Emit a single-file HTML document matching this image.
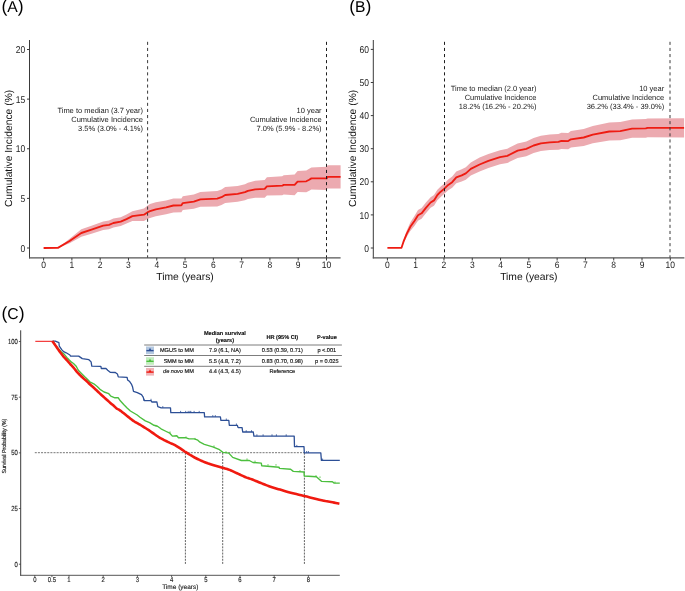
<!DOCTYPE html><html><head><meta charset="utf-8"><style>html,body{margin:0;padding:0;background:#fff;width:685px;height:591px;overflow:hidden}svg{display:block;will-change:transform}</style></head><body>
<svg width="685" height="591" viewBox="0 0 685 591" font-family='"Liberation Sans", sans-serif' text-rendering="geometricPrecision">
<rect width="685" height="591" fill="#fff"/>
<text x="1.50" y="12.30" fill="#000"><tspan font-size="17.6">(</tspan><tspan font-size="15.7">A</tspan><tspan font-size="17.6">)</tspan></text>
<polygon points="43.60,248.00 57.90,247.90 69.60,238.80 81.30,229.20 91.50,225.66 103.20,221.40 109.00,220.55 113.40,218.61 120.70,217.15 126.50,214.57 132.40,211.35 144.00,208.42 148.40,204.99 150.00,204.10 155.80,202.32 166.10,200.45 173.40,198.57 181.40,198.40 182.80,196.18 193.80,194.43 200.40,192.07 217.20,190.98 221.50,189.38 225.20,187.10 237.60,185.94 245.00,184.20 247.90,182.66 255.20,180.81 264.70,179.96 266.90,177.37 282.20,176.22 283.70,175.35 294.60,174.57 297.60,171.08 306.30,170.47 309.20,168.86 311.40,167.38 326.80,166.71 327.50,165.20 340.60,165.20 340.60,188.60 327.50,188.60 326.80,190.09 311.40,189.42 309.20,190.74 306.30,192.13 297.60,192.12 294.60,195.23 283.70,194.45 282.20,195.18 266.90,195.43 264.70,197.84 255.20,197.79 247.90,198.94 245.00,200.20 237.60,201.86 225.20,202.90 221.50,205.02 217.20,206.42 200.40,206.73 193.80,208.77 182.80,210.02 181.40,212.20 173.40,212.43 166.10,214.35 155.80,216.28 150.00,218.10 148.40,218.61 144.00,220.98 132.40,221.05 126.50,223.62 120.70,226.05 113.40,227.39 109.00,229.25 103.20,230.00 91.50,233.74 81.30,236.80 69.60,243.20 57.90,247.90 43.60,248.00" fill="#ecaab0" stroke="none"/>
<polyline points="43.60,248.00 57.90,247.90 69.60,241.00 81.30,233.00 91.50,229.70 103.20,225.70 109.00,224.90 113.40,223.00 120.70,221.60 126.50,219.10 132.40,216.20 144.00,214.70 148.40,211.80 150.00,211.10 155.80,209.30 166.10,207.40 173.40,205.50 181.40,205.30 182.80,203.10 193.80,201.60 200.40,199.40 217.20,198.70 221.50,197.20 225.20,195.00 237.60,193.90 245.00,192.20 247.90,190.80 255.20,189.30 264.70,188.90 266.90,186.40 282.20,185.70 283.70,184.90 294.60,184.90 297.60,181.60 306.30,181.30 309.20,179.80 311.40,178.40 326.80,178.40 327.50,176.90 340.60,176.90" fill="none" stroke="#ee1c12" stroke-width="1.85" stroke-linejoin="round"/>
<line x1="147.60" y1="41.80" x2="147.60" y2="257.90" stroke="#3a3a3a" stroke-width="1" stroke-dasharray="3.1 3"/>
<line x1="326.50" y1="41.80" x2="326.50" y2="257.90" stroke="#1e1e1e" stroke-width="1" stroke-dasharray="3.1 3"/>
<line x1="29.50" y1="40.00" x2="29.50" y2="258.40" stroke="#3a3a3a" stroke-width="1" />
<line x1="29.00" y1="257.90" x2="340.60" y2="257.90" stroke="#555" stroke-width="1.2" />
<line x1="27.00" y1="248.00" x2="29.50" y2="248.00" stroke="#3a3a3a" stroke-width="1" />
<text transform="translate(25.20,251.60) scale(1,1.16)" font-size="8.5" text-anchor="end" fill="#222">0</text>
<line x1="27.00" y1="198.38" x2="29.50" y2="198.38" stroke="#3a3a3a" stroke-width="1" />
<text transform="translate(25.20,201.97) scale(1,1.16)" font-size="8.5" text-anchor="end" fill="#222">5</text>
<line x1="27.00" y1="148.75" x2="29.50" y2="148.75" stroke="#3a3a3a" stroke-width="1" />
<text transform="translate(25.20,152.35) scale(1,1.16)" font-size="8.5" text-anchor="end" fill="#222">10</text>
<line x1="27.00" y1="99.12" x2="29.50" y2="99.12" stroke="#3a3a3a" stroke-width="1" />
<text transform="translate(25.20,102.72) scale(1,1.16)" font-size="8.5" text-anchor="end" fill="#222">15</text>
<line x1="27.00" y1="49.50" x2="29.50" y2="49.50" stroke="#3a3a3a" stroke-width="1" />
<text transform="translate(25.20,53.10) scale(1,1.16)" font-size="8.5" text-anchor="end" fill="#222">20</text>
<line x1="43.60" y1="257.90" x2="43.60" y2="260.50" stroke="#3a3a3a" stroke-width="1" />
<text transform="translate(43.60,268.30) scale(1,1.1)" font-size="8.5" text-anchor="middle" fill="#222">0</text>
<line x1="71.89" y1="257.90" x2="71.89" y2="260.50" stroke="#3a3a3a" stroke-width="1" />
<text transform="translate(71.89,268.30) scale(1,1.1)" font-size="8.5" text-anchor="middle" fill="#222">1</text>
<line x1="100.18" y1="257.90" x2="100.18" y2="260.50" stroke="#3a3a3a" stroke-width="1" />
<text transform="translate(100.18,268.30) scale(1,1.1)" font-size="8.5" text-anchor="middle" fill="#222">2</text>
<line x1="128.47" y1="257.90" x2="128.47" y2="260.50" stroke="#3a3a3a" stroke-width="1" />
<text transform="translate(128.47,268.30) scale(1,1.1)" font-size="8.5" text-anchor="middle" fill="#222">3</text>
<line x1="156.76" y1="257.90" x2="156.76" y2="260.50" stroke="#3a3a3a" stroke-width="1" />
<text transform="translate(156.76,268.30) scale(1,1.1)" font-size="8.5" text-anchor="middle" fill="#222">4</text>
<line x1="185.05" y1="257.90" x2="185.05" y2="260.50" stroke="#3a3a3a" stroke-width="1" />
<text transform="translate(185.05,268.30) scale(1,1.1)" font-size="8.5" text-anchor="middle" fill="#222">5</text>
<line x1="213.34" y1="257.90" x2="213.34" y2="260.50" stroke="#3a3a3a" stroke-width="1" />
<text transform="translate(213.34,268.30) scale(1,1.1)" font-size="8.5" text-anchor="middle" fill="#222">6</text>
<line x1="241.63" y1="257.90" x2="241.63" y2="260.50" stroke="#3a3a3a" stroke-width="1" />
<text transform="translate(241.63,268.30) scale(1,1.1)" font-size="8.5" text-anchor="middle" fill="#222">7</text>
<line x1="269.92" y1="257.90" x2="269.92" y2="260.50" stroke="#3a3a3a" stroke-width="1" />
<text transform="translate(269.92,268.30) scale(1,1.1)" font-size="8.5" text-anchor="middle" fill="#222">8</text>
<line x1="298.21" y1="257.90" x2="298.21" y2="260.50" stroke="#3a3a3a" stroke-width="1" />
<text transform="translate(298.21,268.30) scale(1,1.1)" font-size="8.5" text-anchor="middle" fill="#222">9</text>
<line x1="326.50" y1="257.90" x2="326.50" y2="260.50" stroke="#3a3a3a" stroke-width="1" />
<text transform="translate(326.50,268.30) scale(1,1.1)" font-size="8.5" text-anchor="middle" fill="#222">10</text>
<text x="185.05" y="280.40" font-size="10.3" text-anchor="middle" fill="#111" font-weight="normal" >Time (years)</text>
<text transform="translate(11.90,148.45) rotate(-90)" font-size="10.3" text-anchor="middle" fill="#111">Cumulative Incidence (%)</text>
<text x="143.00" y="113.10" font-size="7.5" text-anchor="end" fill="#222" font-weight="normal" >Time to median (3.7 year)</text>
<text x="143.00" y="122.05" font-size="7.5" text-anchor="end" fill="#222" font-weight="normal" >Cumulative Incidence</text>
<text x="143.00" y="131.00" font-size="7.5" text-anchor="end" fill="#222" font-weight="normal" >3.5% (3.0% - 4.1%)</text>
<text x="321.60" y="113.10" font-size="7.5" text-anchor="end" fill="#222" font-weight="normal" >10 year</text>
<text x="321.60" y="122.05" font-size="7.5" text-anchor="end" fill="#222" font-weight="normal" >Cumulative Incidence</text>
<text x="321.60" y="131.00" font-size="7.5" text-anchor="end" fill="#222" font-weight="normal" >7.0% (5.9% - 8.2%)</text>
<text x="349.20" y="12.30" fill="#000"><tspan font-size="17.6">(</tspan><tspan font-size="15.7">B</tspan><tspan font-size="17.6">)</tspan></text>
<polygon points="387.40,247.80 401.50,247.80 403.50,240.20 406.80,230.40 410.30,222.50 414.60,215.70 418.00,209.90 421.60,207.90 425.90,202.50 430.60,197.15 434.00,195.09 437.40,189.72 440.70,186.46 444.10,183.70 448.20,179.52 452.20,176.62 456.30,171.62 461.70,169.36 465.80,167.16 470.80,162.39 479.60,157.52 488.40,153.90 500.00,150.20 507.30,148.68 517.60,143.42 526.30,141.48 533.60,137.96 540.90,135.75 549.70,134.50 558.40,133.93 561.40,132.87 568.20,132.94 570.90,131.08 583.70,129.03 592.80,126.04 609.30,122.59 620.20,122.07 632.10,119.53 645.80,119.08 647.60,118.46 684.10,118.20 684.10,137.40 647.60,137.14 645.80,137.72 632.10,137.87 620.20,140.13 609.30,140.41 592.80,143.36 583.70,145.97 570.90,147.52 568.20,149.26 561.40,148.93 558.40,149.87 549.70,150.10 540.90,151.05 533.60,153.04 526.30,156.32 517.60,157.98 507.30,162.92 500.00,164.20 488.40,167.90 479.60,171.48 470.80,175.41 465.80,179.64 461.70,181.44 456.30,183.18 452.20,187.78 448.20,190.28 444.10,194.10 440.70,196.94 437.40,200.28 434.00,205.71 430.60,207.85 425.90,213.30 421.60,218.70 418.00,220.70 414.60,225.70 410.30,231.10 406.80,236.80 403.50,243.20 401.50,247.80 387.40,247.80" fill="#ecaab0" stroke="none"/>
<polyline points="387.40,247.80 401.50,247.80 403.50,241.70 406.80,233.60 410.30,226.80 414.60,220.70 418.00,215.30 421.60,213.30 425.90,207.90 430.60,202.50 434.00,200.40 437.40,195.00 440.70,191.70 444.10,188.90 448.20,184.90 452.20,182.20 456.30,177.40 461.70,175.40 465.80,173.40 470.80,168.90 479.60,164.50 488.40,160.90 500.00,157.20 507.30,155.80 517.60,150.70 526.30,148.90 533.60,145.50 540.90,143.40 549.70,142.30 558.40,141.90 561.40,140.90 568.20,141.10 570.90,139.30 583.70,137.50 592.80,134.70 609.30,131.50 620.20,131.10 632.10,128.70 645.80,128.40 647.60,127.80 684.10,127.80" fill="none" stroke="#ee1c12" stroke-width="1.85" stroke-linejoin="round"/>
<line x1="444.50" y1="41.80" x2="444.50" y2="257.90" stroke="#1e1e1e" stroke-width="1" stroke-dasharray="3.1 3"/>
<line x1="670.00" y1="41.80" x2="670.00" y2="257.90" stroke="#3a3a3a" stroke-width="1" stroke-dasharray="3.1 3"/>
<line x1="373.30" y1="40.00" x2="373.30" y2="258.40" stroke="#3a3a3a" stroke-width="1" />
<line x1="372.80" y1="257.90" x2="684.40" y2="257.90" stroke="#555" stroke-width="1.2" />
<line x1="370.80" y1="248.00" x2="373.30" y2="248.00" stroke="#3a3a3a" stroke-width="1" />
<text transform="translate(369.00,251.60) scale(1,1.16)" font-size="8.5" text-anchor="end" fill="#222">0</text>
<line x1="370.80" y1="214.90" x2="373.30" y2="214.90" stroke="#3a3a3a" stroke-width="1" />
<text transform="translate(369.00,218.50) scale(1,1.16)" font-size="8.5" text-anchor="end" fill="#222">10</text>
<line x1="370.80" y1="181.80" x2="373.30" y2="181.80" stroke="#3a3a3a" stroke-width="1" />
<text transform="translate(369.00,185.40) scale(1,1.16)" font-size="8.5" text-anchor="end" fill="#222">20</text>
<line x1="370.80" y1="148.70" x2="373.30" y2="148.70" stroke="#3a3a3a" stroke-width="1" />
<text transform="translate(369.00,152.30) scale(1,1.16)" font-size="8.5" text-anchor="end" fill="#222">30</text>
<line x1="370.80" y1="115.60" x2="373.30" y2="115.60" stroke="#3a3a3a" stroke-width="1" />
<text transform="translate(369.00,119.20) scale(1,1.16)" font-size="8.5" text-anchor="end" fill="#222">40</text>
<line x1="370.80" y1="82.50" x2="373.30" y2="82.50" stroke="#3a3a3a" stroke-width="1" />
<text transform="translate(369.00,86.10) scale(1,1.16)" font-size="8.5" text-anchor="end" fill="#222">50</text>
<line x1="370.80" y1="49.40" x2="373.30" y2="49.40" stroke="#3a3a3a" stroke-width="1" />
<text transform="translate(369.00,53.00) scale(1,1.16)" font-size="8.5" text-anchor="end" fill="#222">60</text>
<line x1="387.40" y1="257.90" x2="387.40" y2="260.50" stroke="#3a3a3a" stroke-width="1" />
<text transform="translate(387.40,268.30) scale(1,1.1)" font-size="8.5" text-anchor="middle" fill="#222">0</text>
<line x1="415.69" y1="257.90" x2="415.69" y2="260.50" stroke="#3a3a3a" stroke-width="1" />
<text transform="translate(415.69,268.30) scale(1,1.1)" font-size="8.5" text-anchor="middle" fill="#222">1</text>
<line x1="443.98" y1="257.90" x2="443.98" y2="260.50" stroke="#3a3a3a" stroke-width="1" />
<text transform="translate(443.98,268.30) scale(1,1.1)" font-size="8.5" text-anchor="middle" fill="#222">2</text>
<line x1="472.27" y1="257.90" x2="472.27" y2="260.50" stroke="#3a3a3a" stroke-width="1" />
<text transform="translate(472.27,268.30) scale(1,1.1)" font-size="8.5" text-anchor="middle" fill="#222">3</text>
<line x1="500.56" y1="257.90" x2="500.56" y2="260.50" stroke="#3a3a3a" stroke-width="1" />
<text transform="translate(500.56,268.30) scale(1,1.1)" font-size="8.5" text-anchor="middle" fill="#222">4</text>
<line x1="528.85" y1="257.90" x2="528.85" y2="260.50" stroke="#3a3a3a" stroke-width="1" />
<text transform="translate(528.85,268.30) scale(1,1.1)" font-size="8.5" text-anchor="middle" fill="#222">5</text>
<line x1="557.14" y1="257.90" x2="557.14" y2="260.50" stroke="#3a3a3a" stroke-width="1" />
<text transform="translate(557.14,268.30) scale(1,1.1)" font-size="8.5" text-anchor="middle" fill="#222">6</text>
<line x1="585.43" y1="257.90" x2="585.43" y2="260.50" stroke="#3a3a3a" stroke-width="1" />
<text transform="translate(585.43,268.30) scale(1,1.1)" font-size="8.5" text-anchor="middle" fill="#222">7</text>
<line x1="613.72" y1="257.90" x2="613.72" y2="260.50" stroke="#3a3a3a" stroke-width="1" />
<text transform="translate(613.72,268.30) scale(1,1.1)" font-size="8.5" text-anchor="middle" fill="#222">8</text>
<line x1="642.01" y1="257.90" x2="642.01" y2="260.50" stroke="#3a3a3a" stroke-width="1" />
<text transform="translate(642.01,268.30) scale(1,1.1)" font-size="8.5" text-anchor="middle" fill="#222">9</text>
<line x1="670.30" y1="257.90" x2="670.30" y2="260.50" stroke="#3a3a3a" stroke-width="1" />
<text transform="translate(670.30,268.30) scale(1,1.1)" font-size="8.5" text-anchor="middle" fill="#222">10</text>
<text x="528.85" y="280.40" font-size="10.3" text-anchor="middle" fill="#111" font-weight="normal" >Time (years)</text>
<text transform="translate(355.70,148.45) rotate(-90)" font-size="10.3" text-anchor="middle" fill="#111">Cumulative Incidence (%)</text>
<text x="536.40" y="90.90" font-size="7.5" text-anchor="end" fill="#222" font-weight="normal" >Time to median (2.0 year)</text>
<text x="536.40" y="99.85" font-size="7.5" text-anchor="end" fill="#222" font-weight="normal" >Cumulative Incidence</text>
<text x="536.40" y="108.80" font-size="7.5" text-anchor="end" fill="#222" font-weight="normal" >18.2% (16.2% - 20.2%)</text>
<text x="664.20" y="90.90" font-size="7.5" text-anchor="end" fill="#222" font-weight="normal" >10 year</text>
<text x="664.20" y="99.85" font-size="7.5" text-anchor="end" fill="#222" font-weight="normal" >Cumulative Incidence</text>
<text x="664.20" y="108.80" font-size="7.5" text-anchor="end" fill="#222" font-weight="normal" >36.2% (33.4% - 39.0%)</text>
<text x="1.50" y="318.90" fill="#000"><tspan font-size="17.6">(</tspan><tspan font-size="15.7">C</tspan><tspan font-size="17.6">)</tspan></text>
<line x1="34.80" y1="452.70" x2="304.40" y2="452.70" stroke="#505050" stroke-width="0.8" stroke-dasharray="2 1.12"/>
<line x1="185.40" y1="452.70" x2="185.40" y2="564.20" stroke="#3a3a3a" stroke-width="0.8" stroke-dasharray="2 1.12"/>
<line x1="222.70" y1="452.70" x2="222.70" y2="564.20" stroke="#3a3a3a" stroke-width="0.8" stroke-dasharray="2 1.12"/>
<line x1="304.40" y1="452.70" x2="304.40" y2="564.20" stroke="#3a3a3a" stroke-width="0.8" stroke-dasharray="2 1.12"/>
<line x1="35.30" y1="341.30" x2="52.40" y2="341.30" stroke="#f01010" stroke-width="1" />
<polyline points="52.40,341.10 56.50,346.50 61.40,352.00 64.10,354.10 66.80,357.40 68.80,359.50 71.50,362.20 73.50,363.50 76.20,366.20 78.30,370.30 81.70,373.70 85.00,377.10 87.10,379.10 89.80,381.80 93.80,383.80 97.20,386.50 100.00,389.30 104.10,392.00 108.80,393.70 110.80,396.10 114.90,397.80 118.30,397.80 120.30,400.80 123.70,404.50 127.10,407.90 130.40,411.00 133.80,413.00 137.20,415.00 140.00,417.20 145.30,420.90 149.60,422.70 154.00,425.30 157.50,426.20 161.00,428.80 166.30,431.50 169.80,433.20 172.40,436.10 176.80,435.80 178.50,437.80 185.50,437.60 189.00,438.90 194.30,438.90 197.80,440.20 200.00,442.20 204.30,444.30 212.80,446.80 219.50,449.70 222.90,452.40 228.80,453.10 232.70,457.40 241.40,460.50 249.30,460.50 253.00,462.50 261.30,463.10 261.70,465.70 279.10,467.20 279.40,468.40 290.60,469.30 293.30,471.40 304.00,472.00 304.30,476.00 316.40,476.70 321.70,481.40 332.40,481.70 334.20,483.10 339.80,483.10" fill="none" stroke="#4cbf3e" stroke-width="1.4" stroke-linejoin="round"/>
<polyline points="52.40,341.10 55.30,341.10 58.90,342.60 59.30,346.20 61.90,349.90 63.70,351.70 66.20,352.80 69.90,355.00 70.60,356.10 78.70,356.10 82.30,358.60 88.90,359.70 91.10,361.90 91.80,366.10 100.90,366.30 101.30,368.50 106.00,368.50 107.70,370.20 110.20,372.30 115.30,372.50 117.40,374.00 118.30,376.90 127.10,377.30 127.60,379.90 129.70,381.60 131.40,384.10 132.60,387.10 133.50,391.30 137.30,392.60 141.50,394.70 143.20,397.20 144.10,400.60 151.00,400.60 151.80,402.00 156.90,402.00 157.80,406.70 161.20,407.90 170.50,407.90 170.80,412.70 204.30,412.70 204.60,416.90 220.40,416.90 220.90,420.30 228.80,420.30 229.30,425.30 237.30,425.30 238.10,427.60 242.10,427.60 242.70,432.00 253.30,432.00 253.90,436.10 294.20,436.10 294.50,446.70 304.00,446.70 304.30,452.80 320.80,452.80 321.40,460.40 339.80,460.40" fill="none" stroke="#2c4f96" stroke-width="1.3" stroke-linejoin="round"/>
<polyline points="52.40,341.10 52.81,341.70 53.39,342.53 54.06,343.51 54.79,344.57 55.52,345.63 56.20,346.60 56.84,347.52 57.48,348.44 58.13,349.37 58.76,350.28 59.39,351.16 60.00,352.00 60.59,352.80 61.16,353.57 61.72,354.31 62.28,355.02 62.84,355.72 63.40,356.40 63.97,357.06 64.54,357.68 65.11,358.29 65.67,358.89 66.24,359.49 66.80,360.10 67.35,360.73 67.90,361.36 68.45,362.00 69.00,362.64 69.55,363.27 70.10,363.90 70.66,364.52 71.23,365.12 71.79,365.72 72.36,366.33 72.93,366.96 73.50,367.60 74.07,368.28 74.63,368.99 75.20,369.71 75.77,370.43 76.33,371.13 76.90,371.80 77.47,372.44 78.03,373.06 78.60,373.66 79.17,374.25 79.73,374.83 80.30,375.40 80.87,375.96 81.43,376.50 82.00,377.04 82.57,377.56 83.13,378.08 83.70,378.60 84.27,379.11 84.84,379.61 85.41,380.10 85.97,380.59 86.54,381.09 87.10,381.60 87.65,382.12 88.20,382.66 88.75,383.20 89.30,383.74 89.85,384.28 90.40,384.80 90.97,385.32 91.55,385.83 92.14,386.34 92.71,386.84 93.27,387.33 93.80,387.80 94.28,388.24 94.72,388.64 95.14,389.03 95.57,389.43 96.01,389.84 96.50,390.30 97.00,390.77 97.49,391.23 97.99,391.72 98.56,392.26 99.22,392.87 100.00,393.60 100.94,394.47 102.03,395.47 103.20,396.54 104.42,397.66 105.63,398.76 106.80,399.80 107.96,400.82 109.16,401.87 110.36,402.90 111.51,403.89 112.58,404.80 113.50,405.60 114.26,406.27 114.88,406.84 115.41,407.34 115.89,407.78 116.37,408.19 116.90,408.60 117.43,408.95 117.91,409.21 118.39,409.45 118.91,409.72 119.54,410.08 120.30,410.60 121.24,411.31 122.32,412.16 123.49,413.11 124.71,414.10 125.93,415.08 127.10,416.00 128.23,416.88 129.36,417.78 130.49,418.66 131.61,419.52 132.71,420.34 133.80,421.10 134.83,421.76 135.81,422.34 136.77,422.88 137.76,423.41 138.82,424.01 140.00,424.70 141.32,425.50 142.74,426.37 144.24,427.29 145.78,428.25 147.31,429.23 148.80,430.20 150.31,431.22 151.87,432.32 153.43,433.43 154.92,434.50 156.30,435.48 157.50,436.30 158.45,436.93 159.19,437.39 159.81,437.76 160.40,438.10 161.07,438.46 161.90,438.90 162.93,439.44 164.07,440.03 165.29,440.64 166.54,441.25 167.76,441.85 168.90,442.40 169.96,442.89 170.97,443.33 171.95,443.74 172.93,444.17 173.94,444.65 175.00,445.20 176.15,445.86 177.39,446.61 178.64,447.41 179.87,448.21 181.01,448.95 182.00,449.60 182.76,450.11 183.32,450.50 183.79,450.84 184.28,451.20 184.91,451.63 185.80,452.20 186.98,452.94 188.36,453.81 189.89,454.76 191.48,455.72 193.08,456.65 194.60,457.50 196.07,458.26 197.54,458.99 199.01,459.68 200.47,460.34 201.94,460.98 203.40,461.60 204.84,462.19 206.25,462.74 207.66,463.28 209.09,463.79 210.56,464.29 212.10,464.80 213.75,465.31 215.50,465.81 217.29,466.31 219.06,466.80 220.75,467.26 222.30,467.70 223.67,468.09 224.89,468.42 226.04,468.73 227.16,469.06 228.33,469.44 229.60,469.90 231.00,470.47 232.48,471.13 234.00,471.83 235.52,472.55 237.00,473.25 238.40,473.90 239.70,474.50 240.94,475.08 242.14,475.64 243.32,476.18 244.50,476.70 245.70,477.20 246.90,477.66 248.08,478.08 249.26,478.48 250.46,478.89 251.70,479.32 253.00,479.80 254.38,480.35 255.83,480.94 257.31,481.56 258.82,482.19 260.32,482.81 261.80,483.40 263.25,483.97 264.68,484.54 266.11,485.09 267.54,485.64 269.00,486.18 270.50,486.70 272.03,487.21 273.60,487.70 275.19,488.18 276.79,488.66 278.40,489.13 280.00,489.60 281.55,490.06 283.05,490.51 284.55,490.96 286.12,491.42 287.81,491.89 289.70,492.40 291.78,492.93 294.00,493.48 296.35,494.05 298.81,494.64 301.37,495.26 304.00,495.90 306.85,496.61 309.96,497.40 313.16,498.21 316.30,499.00 319.20,499.71 321.70,500.30 323.75,500.74 325.46,501.07 326.93,501.32 328.28,501.53 329.60,501.75 331.00,502.00 332.55,502.30 334.18,502.63 335.78,502.96 337.26,503.26 338.50,503.52 339.40,503.70" fill="none" stroke="#f01a10" stroke-width="2.6" stroke-linejoin="round"/>
<line x1="144.20" y1="398.80" x2="144.20" y2="400.60" stroke="#2c4f96" stroke-width="0.8" />
<line x1="151.00" y1="398.80" x2="151.00" y2="400.60" stroke="#2c4f96" stroke-width="0.8" />
<line x1="162.80" y1="406.10" x2="162.80" y2="407.90" stroke="#2c4f96" stroke-width="0.8" />
<line x1="180.60" y1="410.90" x2="180.60" y2="412.70" stroke="#2c4f96" stroke-width="0.8" />
<line x1="185.70" y1="410.90" x2="185.70" y2="412.70" stroke="#2c4f96" stroke-width="0.8" />
<line x1="188.20" y1="410.90" x2="188.20" y2="412.70" stroke="#2c4f96" stroke-width="0.8" />
<line x1="189.90" y1="410.90" x2="189.90" y2="412.70" stroke="#2c4f96" stroke-width="0.8" />
<line x1="190.80" y1="410.90" x2="190.80" y2="412.70" stroke="#2c4f96" stroke-width="0.8" />
<line x1="194.10" y1="410.90" x2="194.10" y2="412.70" stroke="#2c4f96" stroke-width="0.8" />
<line x1="199.20" y1="410.90" x2="199.20" y2="412.70" stroke="#2c4f96" stroke-width="0.8" />
<line x1="212.80" y1="415.10" x2="212.80" y2="416.90" stroke="#2c4f96" stroke-width="0.8" />
<line x1="215.30" y1="415.10" x2="215.30" y2="416.90" stroke="#2c4f96" stroke-width="0.8" />
<line x1="226.30" y1="418.50" x2="226.30" y2="420.30" stroke="#2c4f96" stroke-width="0.8" />
<line x1="236.40" y1="423.50" x2="236.40" y2="425.30" stroke="#2c4f96" stroke-width="0.8" />
<line x1="246.20" y1="430.20" x2="246.20" y2="432.00" stroke="#2c4f96" stroke-width="0.8" />
<line x1="251.50" y1="430.20" x2="251.50" y2="432.00" stroke="#2c4f96" stroke-width="0.8" />
<line x1="256.90" y1="434.30" x2="256.90" y2="436.10" stroke="#2c4f96" stroke-width="0.8" />
<line x1="263.10" y1="434.30" x2="263.10" y2="436.10" stroke="#2c4f96" stroke-width="0.8" />
<line x1="272.00" y1="434.30" x2="272.00" y2="436.10" stroke="#2c4f96" stroke-width="0.8" />
<line x1="276.40" y1="434.30" x2="276.40" y2="436.10" stroke="#2c4f96" stroke-width="0.8" />
<line x1="286.20" y1="434.30" x2="286.20" y2="436.10" stroke="#2c4f96" stroke-width="0.8" />
<line x1="296.80" y1="444.90" x2="296.80" y2="446.70" stroke="#2c4f96" stroke-width="0.8" />
<line x1="306.60" y1="451.00" x2="306.60" y2="452.80" stroke="#2c4f96" stroke-width="0.8" />
<line x1="308.40" y1="451.00" x2="308.40" y2="452.80" stroke="#2c4f96" stroke-width="0.8" />
<line x1="322.60" y1="458.60" x2="322.60" y2="460.40" stroke="#2c4f96" stroke-width="0.8" />
<line x1="156.00" y1="424.90" x2="156.00" y2="426.50" stroke="#4cbf3e" stroke-width="0.8" />
<line x1="170.00" y1="431.40" x2="170.00" y2="433.00" stroke="#4cbf3e" stroke-width="0.8" />
<line x1="186.00" y1="436.40" x2="186.00" y2="438.00" stroke="#4cbf3e" stroke-width="0.8" />
<line x1="195.00" y1="437.90" x2="195.00" y2="439.50" stroke="#4cbf3e" stroke-width="0.8" />
<line x1="214.00" y1="445.40" x2="214.00" y2="447.00" stroke="#4cbf3e" stroke-width="0.8" />
<line x1="226.00" y1="451.20" x2="226.00" y2="452.80" stroke="#4cbf3e" stroke-width="0.8" />
<line x1="247.00" y1="458.40" x2="247.00" y2="460.00" stroke="#4cbf3e" stroke-width="0.8" />
<line x1="255.00" y1="460.60" x2="255.00" y2="462.20" stroke="#4cbf3e" stroke-width="0.8" />
<line x1="268.00" y1="464.10" x2="268.00" y2="465.70" stroke="#4cbf3e" stroke-width="0.8" />
<line x1="276.00" y1="464.10" x2="276.00" y2="465.70" stroke="#4cbf3e" stroke-width="0.8" />
<line x1="300.00" y1="470.10" x2="300.00" y2="471.70" stroke="#4cbf3e" stroke-width="0.8" />
<line x1="316.00" y1="475.10" x2="316.00" y2="476.70" stroke="#4cbf3e" stroke-width="0.8" />
<line x1="320.00" y1="476.40" x2="320.00" y2="478.00" stroke="#4cbf3e" stroke-width="0.8" />
<line x1="335.00" y1="481.50" x2="335.00" y2="483.10" stroke="#4cbf3e" stroke-width="0.8" />
<line x1="20.70" y1="330.30" x2="20.70" y2="575.80" stroke="#3a3a3a" stroke-width="1" />
<line x1="20.20" y1="575.30" x2="339.80" y2="575.30" stroke="#555" stroke-width="1" />
<line x1="18.90" y1="564.20" x2="20.70" y2="564.20" stroke="#3a3a3a" stroke-width="0.8" />
<text transform="translate(17.90,566.70) scale(1,1.25)" font-size="5.9" text-anchor="end" fill="#222" stroke="#222" stroke-width="0.12">0</text>
<line x1="18.90" y1="508.53" x2="20.70" y2="508.53" stroke="#3a3a3a" stroke-width="0.8" />
<text transform="translate(17.90,511.03) scale(1,1.25)" font-size="5.9" text-anchor="end" fill="#222" stroke="#222" stroke-width="0.12">25</text>
<line x1="18.90" y1="452.85" x2="20.70" y2="452.85" stroke="#3a3a3a" stroke-width="0.8" />
<text transform="translate(17.90,455.35) scale(1,1.25)" font-size="5.9" text-anchor="end" fill="#222" stroke="#222" stroke-width="0.12">50</text>
<line x1="18.90" y1="397.18" x2="20.70" y2="397.18" stroke="#3a3a3a" stroke-width="0.8" />
<text transform="translate(17.90,399.68) scale(1,1.25)" font-size="5.9" text-anchor="end" fill="#222" stroke="#222" stroke-width="0.12">75</text>
<line x1="18.90" y1="341.50" x2="20.70" y2="341.50" stroke="#3a3a3a" stroke-width="0.8" />
<text transform="translate(17.90,344.00) scale(1,1.25)" font-size="5.9" text-anchor="end" fill="#222" stroke="#222" stroke-width="0.12">100</text>
<line x1="34.80" y1="575.30" x2="34.80" y2="577.10" stroke="#3a3a3a" stroke-width="0.8" />
<text transform="translate(34.80,582.30) scale(1,1.2)" font-size="5.9" text-anchor="middle" fill="#222" stroke="#222" stroke-width="0.12">0</text>
<line x1="51.90" y1="575.30" x2="51.90" y2="577.10" stroke="#3a3a3a" stroke-width="0.8" />
<text transform="translate(51.90,582.30) scale(1,1.2)" font-size="5.9" text-anchor="middle" fill="#222" stroke="#222" stroke-width="0.12">0.5</text>
<line x1="69.00" y1="575.30" x2="69.00" y2="577.10" stroke="#3a3a3a" stroke-width="0.8" />
<text transform="translate(69.00,582.30) scale(1,1.2)" font-size="5.9" text-anchor="middle" fill="#222" stroke="#222" stroke-width="0.12">1</text>
<line x1="103.20" y1="575.30" x2="103.20" y2="577.10" stroke="#3a3a3a" stroke-width="0.8" />
<text transform="translate(103.20,582.30) scale(1,1.2)" font-size="5.9" text-anchor="middle" fill="#222" stroke="#222" stroke-width="0.12">2</text>
<line x1="137.40" y1="575.30" x2="137.40" y2="577.10" stroke="#3a3a3a" stroke-width="0.8" />
<text transform="translate(137.40,582.30) scale(1,1.2)" font-size="5.9" text-anchor="middle" fill="#222" stroke="#222" stroke-width="0.12">3</text>
<line x1="171.60" y1="575.30" x2="171.60" y2="577.10" stroke="#3a3a3a" stroke-width="0.8" />
<text transform="translate(171.60,582.30) scale(1,1.2)" font-size="5.9" text-anchor="middle" fill="#222" stroke="#222" stroke-width="0.12">4</text>
<line x1="205.80" y1="575.30" x2="205.80" y2="577.10" stroke="#3a3a3a" stroke-width="0.8" />
<text transform="translate(205.80,582.30) scale(1,1.2)" font-size="5.9" text-anchor="middle" fill="#222" stroke="#222" stroke-width="0.12">5</text>
<line x1="240.00" y1="575.30" x2="240.00" y2="577.10" stroke="#3a3a3a" stroke-width="0.8" />
<text transform="translate(240.00,582.30) scale(1,1.2)" font-size="5.9" text-anchor="middle" fill="#222" stroke="#222" stroke-width="0.12">6</text>
<line x1="274.20" y1="575.30" x2="274.20" y2="577.10" stroke="#3a3a3a" stroke-width="0.8" />
<text transform="translate(274.20,582.30) scale(1,1.2)" font-size="5.9" text-anchor="middle" fill="#222" stroke="#222" stroke-width="0.12">7</text>
<line x1="308.40" y1="575.30" x2="308.40" y2="577.10" stroke="#3a3a3a" stroke-width="0.8" />
<text transform="translate(308.40,582.30) scale(1,1.2)" font-size="5.9" text-anchor="middle" fill="#222" stroke="#222" stroke-width="0.12">8</text>
<text x="180.25" y="589.00" font-size="6.5" text-anchor="middle" fill="#111" font-weight="normal" stroke="#111" stroke-width="0.1">Time (years)</text>
<text transform="translate(6.4,446.0) rotate(-90) scale(1,1.1)" font-size="5.3" text-anchor="middle" fill="#111" stroke="#111" stroke-width="0.12">Survival Probability (%)</text>
<g stroke="#111" stroke-width="0.14">
<line x1="144.20" y1="345.00" x2="341.90" y2="345.00" stroke="#6e6e6e" stroke-width="0.9" />
<line x1="144.20" y1="355.50" x2="341.90" y2="355.50" stroke="#6e6e6e" stroke-width="0.9" />
<line x1="144.20" y1="366.30" x2="341.90" y2="366.30" stroke="#6e6e6e" stroke-width="0.9" />
<text x="224.90" y="334.80" font-size="5.6" text-anchor="middle" fill="#111" font-weight="bold" >Median survival</text>
<text x="224.90" y="341.80" font-size="5.6" text-anchor="middle" fill="#111" font-weight="bold" >(years)</text>
<text x="282.30" y="338.60" font-size="5.6" text-anchor="middle" fill="#111" font-weight="bold" >HR (95% CI)</text>
<text x="326.90" y="338.60" font-size="5.6" text-anchor="middle" fill="#111" font-weight="bold" >P-value</text>
<rect x="146" y="346.50" width="8" height="7.6" fill="#b4c8e0" stroke="none"/>
<line x1="146.40" y1="350.60" x2="153.60" y2="350.60" stroke="#2c4f96" stroke-width="1.4" />
<path d="M148.6,350.60 L150,347.70 L151.4,350.60 Z" fill="#2c4f96" stroke="none"/>
<text x="193.80" y="351.90" font-size="5.6" text-anchor="end" fill="#111" font-weight="normal" >MGUS to MM</text>
<text x="224.90" y="351.90" font-size="5.6" text-anchor="middle" fill="#111" font-weight="normal" >7.9 (6.1, NA)</text>
<text x="282.30" y="351.90" font-size="5.6" text-anchor="middle" fill="#111" font-weight="normal" >0.53 (0.39, 0.71)</text>
<text x="326.80" y="351.90" font-size="5.6" text-anchor="middle" fill="#111" font-weight="normal" >p &lt;.001</text>
<rect x="146" y="357.20" width="8" height="7.6" fill="#c4eec0" stroke="none"/>
<line x1="146.40" y1="361.30" x2="153.60" y2="361.30" stroke="#4cbf3e" stroke-width="1.4" />
<path d="M148.6,361.30 L150,358.40 L151.4,361.30 Z" fill="#4cbf3e" stroke="none"/>
<text x="193.80" y="362.60" font-size="5.6" text-anchor="end" fill="#111" font-weight="normal" >SMM to MM</text>
<text x="224.90" y="362.60" font-size="5.6" text-anchor="middle" fill="#111" font-weight="normal" >5.5 (4.8, 7.2)</text>
<text x="282.30" y="362.60" font-size="5.6" text-anchor="middle" fill="#111" font-weight="normal" >0.83 (0.70, 0.98)</text>
<text x="326.80" y="362.60" font-size="5.6" text-anchor="middle" fill="#111" font-weight="normal" >p = 0.025</text>
<rect x="146" y="368.00" width="8" height="7.6" fill="#f0b4b8" stroke="none"/>
<line x1="146.40" y1="372.10" x2="153.60" y2="372.10" stroke="#f01a10" stroke-width="1.4" />
<path d="M148.6,372.10 L150,369.20 L151.4,372.10 Z" fill="#f01a10" stroke="none"/>
<text x="193.8" y="373.40" font-size="5.6" text-anchor="end" fill="#111"><tspan font-style="italic">de novo</tspan> MM</text>
<text x="224.90" y="373.40" font-size="5.6" text-anchor="middle" fill="#111" font-weight="normal" >4.4 (4.3, 4.5)</text>
<text x="282.30" y="373.40" font-size="5.6" text-anchor="middle" fill="#111" font-weight="normal" >Reference</text>
</g>
</svg></body></html>
